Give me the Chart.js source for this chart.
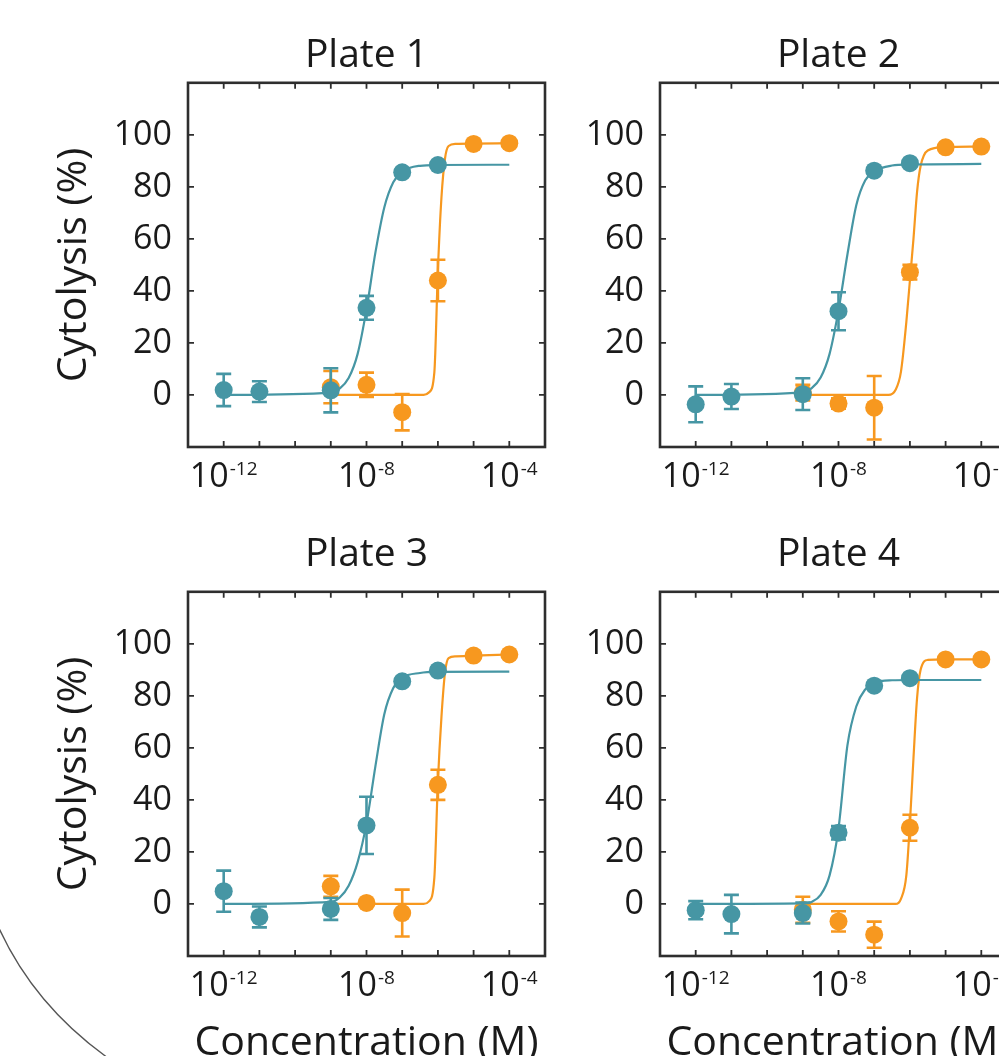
<!DOCTYPE html>
<html>
<head>
<meta charset="utf-8">
<script src="https://cdn.jsdelivr.net/npm/chart.js@4.4.0/dist/chart.umd.min.js"></script>
<style>
  html, body { margin: 0; padding: 0; background: #fff; overflow: hidden; }
  body { width: 999px; height: 1056px; position: relative; }
  canvas { position: absolute; }
  #arc { position: absolute; left: 0; top: 0; }
</style>
</head>
<body>
<canvas id="p1" width="580" height="505" style="left:0;top:0"></canvas>
<canvas id="p2" width="472" height="505" style="left:580px;top:0"></canvas>
<canvas id="p3" width="580" height="575" style="left:0;top:505px"></canvas>
<canvas id="p4" width="472" height="575" style="left:580px;top:505px"></canvas>
<svg id="arc" width="200" height="1056"><path d="M -2 926 C 20 975, 55 1020, 108 1058" fill="none" stroke="#555" stroke-width="1.3"/></svg>
<script>
// concentrations as log10(M)
const tealX = [-12, -11, -9, -8, -7, -6];
const orangeX = [-9, -8, -7, -6, -5, -4];
const tealFitX = [-12, -9, -8.75, -8.5, -8.25, -8, -7.75, -7.5, -7.25, -7, -6.5, -6, -4];
const orangeFitX = [-9, -6.6, -6.4, -6.25, -6.1, -6.0, -5.9, -5.8, -5.7, -5.5, -5, -4];
const xDecades = [-12, -11, -10, -9, -8, -7, -6, -5, -4];
const xLabelExps = [-12, -8, -4];
const yTicks = [0, 20, 40, 60, 80, 100];
const plateTitles = ['Plate 1', 'Plate 2', 'Plate 3', 'Plate 4'];

// Plate 1
const teal1 = [1.9, 1.3, 1.8, 33.5, 85.6, 88.4];
const teal1Err = [6.2, 4, 8.5, 4.6, 1, 1];
const orange1 = [3, 3.9, -6.6, 44, 96.5, 96.8];
const orange1Err = [6.2, 4.7, 7, 8, 1, 1];
const tealFit1 = [0, 0.9, 2.5, 6.5, 15.7, 32.9, 54.8, 72.2, 81.8, 85.9, 88.1, 88.4, 88.5];
const orangeFit1 = [0, 0, 0, 1, 8.6, 48, 76, 91, 95.7, 96.5, 96.6, 96.8];

// Plate 2
const teal2 = [-3.6, -0.6, 0.3, 32.2, 86.2, 89.1];
const teal2Err = [6.9, 4.8, 6.1, 7.3, 1, 1];
const orange2 = [0.9, -3.3, -4.9, 47.2, 95.2, 95.5];
const orange2Err = [3, 2, 12.2, 2.8, 1, 1];
const tealFit2 = [0, 1, 2.6, 6.7, 15.8, 32.5, 54, 73, 82.5, 86, 88.2, 88.6, 88.8];
const orangeFit2 = [0, 0, 2, 9, 28, 44, 60, 78, 88, 94, 95.3, 95.5];

// Plate 3
const teal3 = [4.9, -5.0, -1.9, 30.2, 85.6, 89.7];
const teal3Err = [7.9, 4, 4.2, 11, 1, 1];
const orange3 = [6.8, 0.4, -3.5, 45.8, 95.5, 95.9];
const orange3Err = [4, 1, 9, 5.8, 1, 1];
const tealFit3 = [0, 0.8, 2.5, 7, 16, 31, 53, 73, 83, 87, 88.8, 89.2, 89.3];
const orangeFit3 = [0, 0, 0, 1, 10, 47, 72, 89, 94.5, 95.2, 95.5, 95.9];

// Plate 4
const teal4 = [-2.4, -3.9, -3.5, 27.4, 83.9, 86.8];
const teal4Err = [3.5, 7.4, 4, 2.6, 1, 1];
const orange4 = [-2.2, -6.7, -11.8, 29.3, 94.0, 94.0];
const orange4Err = [5, 3.9, 5, 5, 1, 1];
const tealFit4 = [0, 0.2, 0.8, 3.5, 11, 29, 61, 76, 82.5, 85, 86, 86.1, 86.1];
const orangeFit4 = [0, 0, 0, 2, 11, 31, 56, 79, 90, 93.8, 94, 94];

const TEAL = '#4696a4';
const ORANGE = '#f7981f';
const FRAME = '#2e2e2e';
const TEXT = '#1a1a1a';
const FONT = '"Open Sans", "Noto Sans", sans-serif';

const pts = (xs, ys) => xs.map((e, i) => ({ x: 10 ** e, y: ys[i] }));

// box + inward ticks + 10^n labels
const framePlugin = {
  id: 'frame',
  afterDraw(chart) {
    const { ctx, chartArea: a, scales: { x, y } } = chart;
    ctx.save();
    ctx.strokeStyle = FRAME;
    ctx.lineWidth = 1.8;
    ctx.beginPath();
    xDecades.forEach(e => {
      const px = x.getPixelForValue(10 ** e);
      ctx.moveTo(px, a.bottom); ctx.lineTo(px, a.bottom - 6);
      ctx.moveTo(px, a.top); ctx.lineTo(px, a.top + 6);
    });
    yTicks.forEach(v => {
      const py = y.getPixelForValue(v);
      ctx.moveTo(a.left, py); ctx.lineTo(a.left + 6, py);
      ctx.moveTo(a.right, py); ctx.lineTo(a.right - 6, py);
    });
    ctx.stroke();
    ctx.lineWidth = 2.6;
    ctx.strokeRect(a.left, a.top, a.right - a.left, a.bottom - a.top);

    ctx.fillStyle = TEXT;
    ctx.textBaseline = 'alphabetic';
    ctx.textAlign = 'left';
    const base = a.bottom + 39.5;
    xLabelExps.forEach(e => {
      const px = x.getPixelForValue(10 ** e);
      ctx.font = '34px ' + FONT;
      const w1 = ctx.measureText('10').width;
      ctx.font = '19px ' + FONT;
      const sup = '-' + Math.abs(e);
      const w2 = ctx.measureText(sup).width;
      const start = px - (w1 + w2 + 1) / 2;
      ctx.font = '34px ' + FONT;
      ctx.fillText('10', start, base);
      ctx.font = '19px ' + FONT;
      ctx.fillText(sup, start + w1 + 1, base - 12);
    });
    ctx.restore();
  }
};

const errorBarPlugin = {
  id: 'errorBars',
  beforeDatasetDraw(chart, args) {
    const ds = chart.data.datasets[args.index];
    if (!ds.yErr) return;
    const { ctx, scales: { x, y } } = chart;
    ctx.save();
    ctx.strokeStyle = ds.backgroundColor;
    ctx.lineWidth = 2.6;
    ds.data.forEach((p, i) => {
      const e = ds.yErr[i];
      const px = x.getPixelForValue(p.x);
      const top = y.getPixelForValue(p.y + e);
      const bot = y.getPixelForValue(p.y - e);
      ctx.beginPath();
      ctx.moveTo(px, top); ctx.lineTo(px, bot);
      ctx.moveTo(px - 7.5, top); ctx.lineTo(px + 7.5, top);
      ctx.moveTo(px - 7.5, bot); ctx.lineTo(px + 7.5, bot);
      ctx.stroke();
    });
    ctx.restore();
  }
};

const panels = [
  { id: 'p1', title: plateTitles[0], teal: teal1, tealErr: teal1Err, orange: orange1, orangeErr: orange1Err, tealFit: tealFit1, orangeFit: orangeFit1,
    yW: 188, xH: 58, titlePad: { top: 32, bottom: 4 }, yTitle: true, xTitle: false },
  { id: 'p2', title: plateTitles[1], teal: teal2, tealErr: teal2Err, orange: orange2, orangeErr: orange2Err, tealFit: tealFit2, orangeFit: orangeFit2,
    yW: 80, xH: 58, titlePad: { top: 32, bottom: 4 }, yTitle: false, xTitle: false },
  { id: 'p3', title: plateTitles[2], teal: teal3, tealErr: teal3Err, orange: orange3, orangeErr: orange3Err, tealFit: tealFit3, orangeFit: orangeFit3,
    yW: 188, xH: 124, titlePad: { top: 26, bottom: 14 }, yTitle: true, xTitle: true },
  { id: 'p4', title: plateTitles[3], teal: teal4, tealErr: teal4Err, orange: orange4, orangeErr: orange4Err, tealFit: tealFit4, orangeFit: orangeFit4,
    yW: 80, xH: 124, titlePad: { top: 26, bottom: 14 }, yTitle: false, xTitle: true }
];

panels.forEach(p => {
  new Chart(document.getElementById(p.id), {
    type: 'scatter',
    data: {
      datasets: [
        { label: 'teal', data: pts(tealX, p.teal), yErr: p.tealErr, showLine: false,
          pointRadius: 9, pointHoverRadius: 9, backgroundColor: TEAL, borderWidth: 0 },
        { label: 'teal fit', data: pts(tealFitX, p.tealFit), showLine: true, pointRadius: 0,
          borderColor: TEAL, borderWidth: 2.2, cubicInterpolationMode: 'monotone' },
        { label: 'orange', data: pts(orangeX, p.orange), yErr: p.orangeErr, showLine: false,
          pointRadius: 9, pointHoverRadius: 9, backgroundColor: ORANGE, borderWidth: 0 },
        { label: 'orange fit', data: pts(orangeFitX, p.orangeFit), showLine: true, pointRadius: 0,
          borderColor: ORANGE, borderWidth: 2.2, cubicInterpolationMode: 'monotone' }
      ]
    },
    options: {
      responsive: false,
      animation: false,
      devicePixelRatio: 1,
      layout: { autoPadding: false, padding: { left: 0, top: 0, right: 35, bottom: 0 } },
      plugins: {
        legend: { display: false },
        tooltip: { enabled: false },
        title: { display: true, text: p.title, fullSize: false, color: TEXT,
          font: { family: FONT, size: 39, weight: 'normal' }, padding: p.titlePad }
      },
      scales: {
        x: {
          type: 'logarithmic', min: 1e-13, max: 1e-3,
          ticks: { display: false }, grid: { display: false, drawTicks: false }, border: { display: false },
          title: { display: p.xTitle, text: 'Concentration (M)', color: TEXT,
            font: { family: FONT, size: 41 }, padding: { top: 0, bottom: 12 } },
          afterFit: s => { s.height = p.xH; }
        },
        y: {
          type: 'linear', min: -20, max: 120,
          afterBuildTicks: s => { s.ticks = yTicks.map(v => ({ value: v })); },
          ticks: { color: TEXT, font: { family: FONT, size: 34 }, padding: 16 },
          grid: { display: false, drawTicks: false }, border: { display: false },
          title: { display: p.yTitle, text: 'Cytolysis (%)', color: TEXT,
            font: { family: FONT, size: 41 }, padding: { top: 50, bottom: 0 } },
          afterFit: s => { s.width = p.yW; }
        }
      }
    },
    plugins: [framePlugin, errorBarPlugin]
  });
});
</script>
</body>
</html>
